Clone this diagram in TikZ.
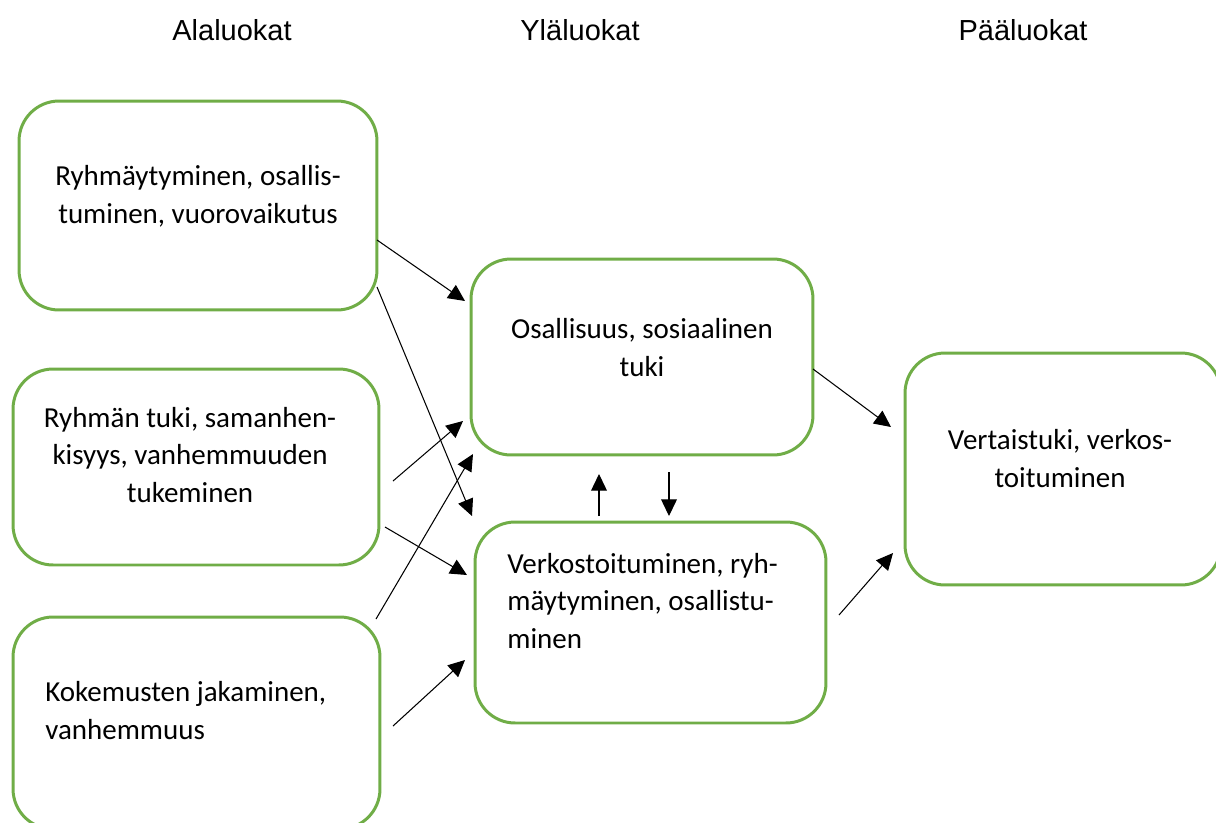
\documentclass[tikz,border=0pt]{standalone}
\usepackage{fontspec}
\setmainfont{Carlito}
\newfontfamily\headfont{Liberation Sans}
\usepackage{tikz}
\usetikzlibrary{positioning, arrows.meta}
\definecolor{boxgreen}{HTML}{70AD47}

\begin{document}
\begin{tikzpicture}[x=0.02cm, y=-0.02cm,
    box/.style={draw=boxgreen, line width=1.7pt, rounded corners=0.8cm, inner sep=0pt},
    txt/.style={font=\fontsize{16.5}{21.6}\selectfont, inner sep=0pt},
    head/.style={font=\headfont\fontsize{16.5}{20}\selectfont, anchor=base, inner sep=0pt},
    arr/.style={line width=0.6pt, -{Triangle[length=9.5pt, width=9pt]}}]
        \useasboundingbox (0,0) rectangle (1216,822);
        % otsikot
        \node[head] (hA) at (232,40) {Alaluokat};
        \node[head] (hY) at (580,40) {Yläluokat};
        \node[head] (hP) at (1023,40) {Pääluokat};
        % laatikot
        \node[box, minimum width=7.16cm, minimum height=4.18cm] (a1) at (198,205.5) {};
        \node[box, minimum width=7.32cm, minimum height=3.92cm] (a2) at (196,467) {};
        \node[box, minimum width=7.34cm, minimum height=4.24cm] (a3) at (196.5,723) {};
        \node[box, minimum width=6.84cm, minimum height=3.92cm] (b1) at (642,357) {};
        \node[box, minimum width=7.02cm, minimum height=4.02cm] (b2) at (650.5,622.5) {};
        \node[box, minimum width=6.32cm, minimum height=4.64cm] (c1) at (1063,469) {};
        % tekstit
        \node[txt, align=center] (a1t) at (198,196) {Ryhmäytyminen, osallis-\\tuminen, vuorovaikutus};
        \node[txt, align=center] (a2t) at (190,455) {Ryhmän tuki, samanhen-\\kisyys, vanhemmuuden\\tukeminen};
        \node[txt, align=left, anchor=west] (a3t) at (45,711) {Kokemusten jakaminen,\\vanhemmuus};
        \node[txt, align=center] (b1t) at (642,347.5) {Osallisuus, sosiaalinen\\tuki};
        \node[txt, align=left, anchor=west] (b2t) at (507,601) {Verkostoituminen, ryh-\\mäytyminen, osallistu-\\minen};
        \node[txt, align=center] (c1t) at (1060,459) {Vertaistuki, verkos-\\toituminen};
        % nuolten päät
        \coordinate (s1) at (377,240);  \coordinate (e1) at (465,301);
        \coordinate (s2) at (377,287);  \coordinate (e2) at (472,516);
        \coordinate (s3) at (393,481);  \coordinate (e3) at (463,421);
        \coordinate (s4) at (376,619);  \coordinate (e4) at (473,454);
        \coordinate (s5) at (385,527);  \coordinate (e5) at (467,575);
        \coordinate (s6) at (393,726);  \coordinate (e6) at (465,660);
        \coordinate (s7) at (599,516);  \coordinate (e7) at (599,474);
        \coordinate (s8) at (669,472);  \coordinate (e8) at (669,516);
        \coordinate (s9) at (813,369);  \coordinate (e9) at (891,427);
        \coordinate (s10) at (839,615); \coordinate (e10) at (893,553);
        \path[arr]
            (s1) edge (e1)
            (s2) edge (e2)
            (s3) edge (e3)
            (s4) edge (e4)
            (s5) edge (e5)
            (s6) edge (e6)
            (s7) edge (e7)
            (s8) edge (e8)
            (s9) edge (e9)
            (s10) edge (e10);
\end{tikzpicture}
\end{document}
